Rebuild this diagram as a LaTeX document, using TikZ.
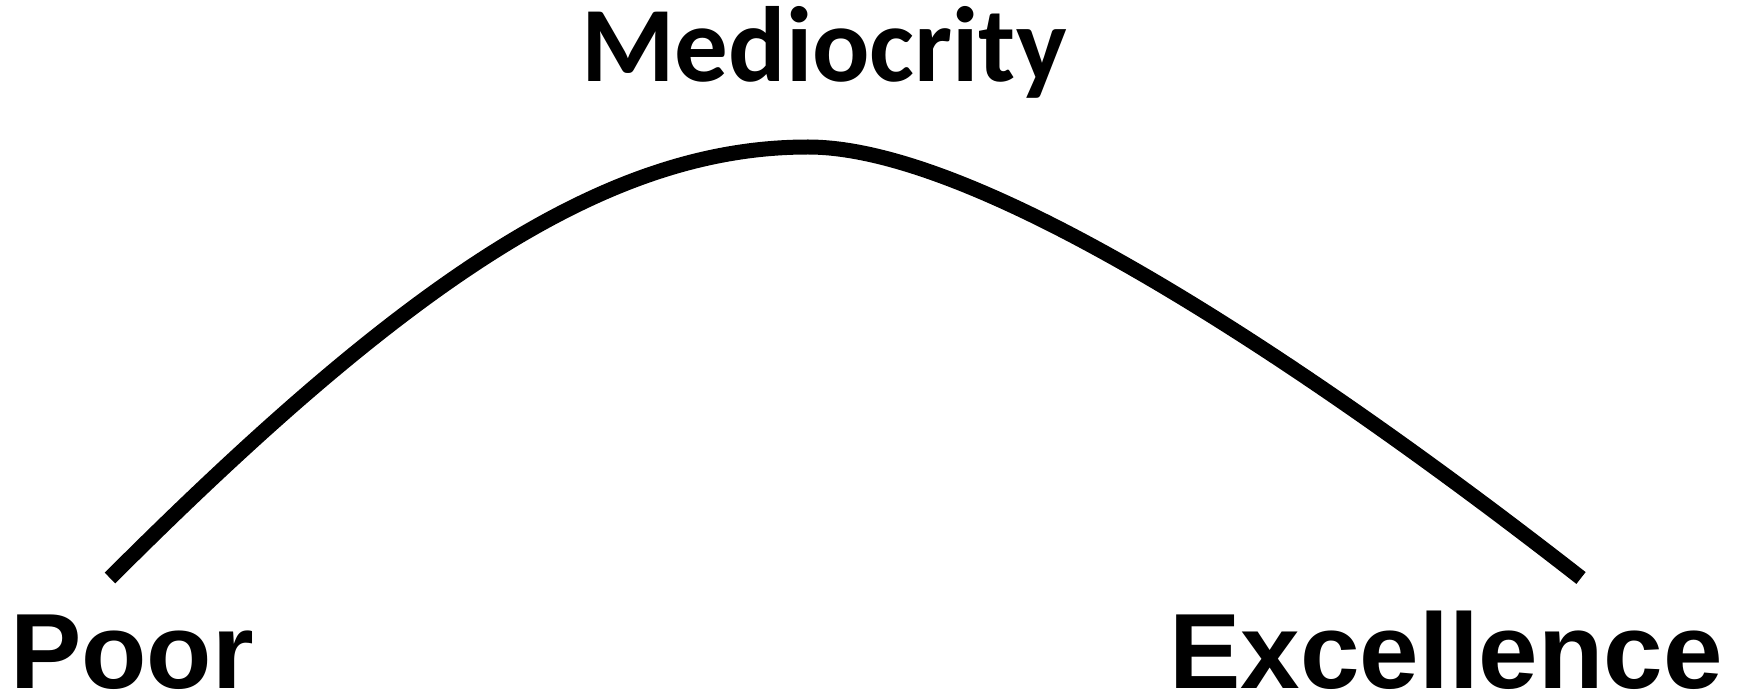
\documentclass[tikz,border=0pt]{standalone}
\usepackage{fontspec}
\setmainfont{Liberation Sans}
\newfontfamily\calib{Carlito}
\begin{document}
\begin{tikzpicture}[x=1pt,y=-1pt,
  lbl/.style={inner sep=0pt,font=\bfseries\fontsize{107}{118}\selectfont},
  mlbl/.style={inner sep=0pt,font=\calib\bfseries\fontsize{107}{118}\selectfont},
  curve/.style={line width=15pt,line cap=butt}]
\useasboundingbox (0,0) rectangle (1742,692);
\node[mlbl,anchor=base] (med) at (824,82) {Mediocrity};
\node[lbl,anchor=base west] (poor) at (10,688) {Poor};
\node[lbl,anchor=base east] (exc) at (1723,688) {Excellence};
\coordinate (s) at (110,578);
\coordinate (p) at (808,147);
\coordinate (e) at (1581,578);
\draw[curve] (s) .. controls (410,278) and (608,147) .. (p)
  .. controls (988,147) and (1331,383) .. (e);
\end{tikzpicture}
\end{document}
